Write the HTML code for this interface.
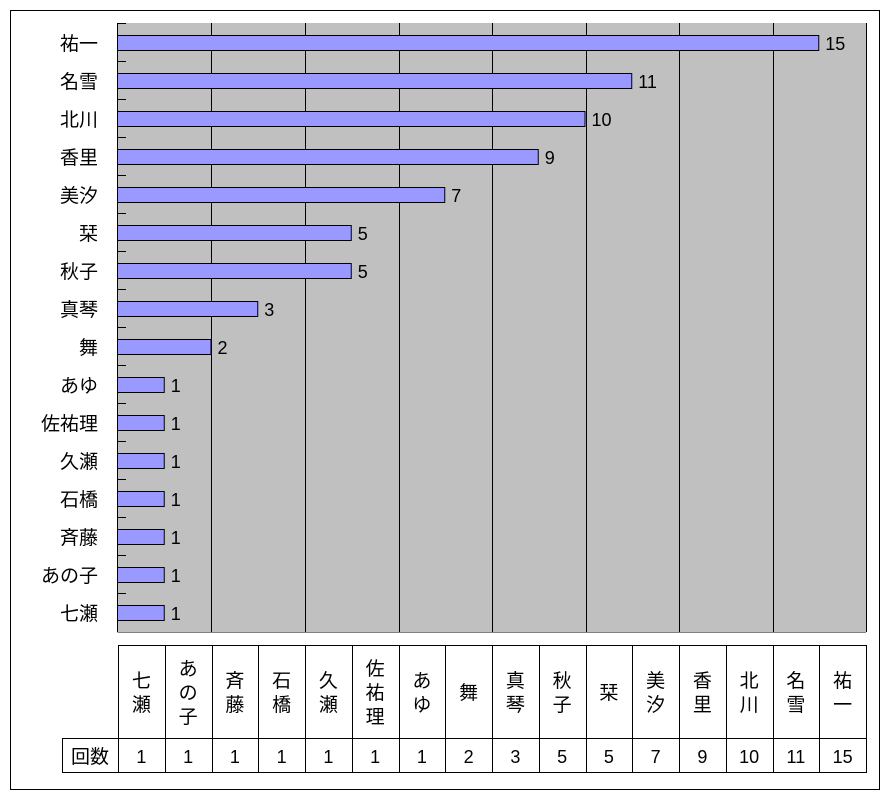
<!DOCTYPE html>
<html><head><meta charset="utf-8"><style>
body{margin:0;background:#fff;}
text{font-family:"Liberation Sans","Noto Sans CJK JP",sans-serif;}
</style></head><body>
<svg width="891" height="799" xmlns="http://www.w3.org/2000/svg">
<rect x="10.5" y="10.5" width="869" height="779" fill="#fff" stroke="#000"/>
<rect x="118" y="23" width="748" height="609" fill="#c0c0c0"/>
<g stroke="#000" stroke-width="1">
<line x1="211.5" y1="23" x2="211.5" y2="632"/>
<line x1="305.5" y1="23" x2="305.5" y2="632"/>
<line x1="399.5" y1="23" x2="399.5" y2="632"/>
<line x1="492.5" y1="23" x2="492.5" y2="632"/>
<line x1="586.5" y1="23" x2="586.5" y2="632"/>
<line x1="679.5" y1="23" x2="679.5" y2="632"/>
<line x1="773.5" y1="23" x2="773.5" y2="632"/>
<line x1="866.5" y1="23" x2="866.5" y2="632"/>
<line x1="117.5" y1="23" x2="117.5" y2="632"/>
<line x1="117.5" y1="632.5" x2="866" y2="632.5" stroke="#808080"/>
</g>
<g id="bars"></g>
<g id="tbl"></g>
<script>
const names=["祐一","名雪","北川","香里","美汐","栞","秋子","真琴","舞","あゆ","佐祐理","久瀬","石橋","斉藤","あの子","七瀬"];
const vals=[15,11,10,9,7,5,5,3,2,1,1,1,1,1,1,1];
const ns="http://www.w3.org/2000/svg";
const b=document.getElementById("bars");
function el(t,a,txt){const e=document.createElementNS(ns,t);for(const k in a)e.setAttribute(k,a[k]);if(txt!==undefined)e.textContent=txt;return e;}
for(let i=0;i<16;i++){
 const y=23+38*i;
 b.appendChild(el("line",{x1:118,x2:126,y1:y+0.5,y2:y+0.5,stroke:"#000"}));
 const w=vals[i]*46.75;
 b.appendChild(el("rect",{x:117.5,y:y+12.5,width:w,height:15,fill:"#9999ff",stroke:"#000"}));
 b.appendChild(el("text",{x:118+w+6,y:y+27,"font-size":18},vals[i]));
 b.appendChild(el("text",{x:98,y:y+27,"font-size":19,"text-anchor":"end"},names[i]));
}
const t=document.getElementById("tbl");
const rev=names.slice().reverse(), rv=vals.slice().reverse();
const cw=748/16;
t.appendChild(el("rect",{x:118.5,y:645.5,width:748,height:127,fill:"none",stroke:"#000"}));
t.appendChild(el("rect",{x:62.5,y:738.5,width:56,height:34,fill:"none",stroke:"#000"}));
t.appendChild(el("line",{x1:118,x2:866,y1:738.5,y2:738.5,stroke:"#000"}));
t.appendChild(el("text",{x:90,y:763,"font-size":19,"text-anchor":"middle"},"回数"));
for(let i=0;i<16;i++){
 const x=118+cw*i;
 if(i>0)t.appendChild(el("line",{x1:Math.round(x)+0.5,x2:Math.round(x)+0.5,y1:645,y2:773,stroke:"#000"}));
 const cx=x+cw/2;
 const ch=[...rev[i]];
 const lh=24, tot=ch.length*lh, top=692-tot/2;
 ch.forEach((c,j)=>t.appendChild(el("text",{x:cx,y:top+lh*j+19,"font-size":19,"text-anchor":"middle"},c)));
 t.appendChild(el("text",{x:cx,y:763,"font-size":18,"text-anchor":"middle"},rv[i]));
}
</script>
</svg>
</body></html>
